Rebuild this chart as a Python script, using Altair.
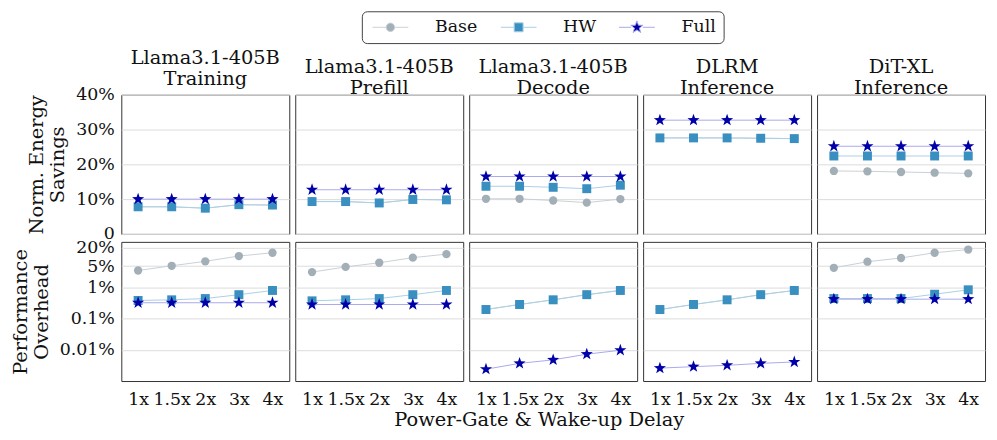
import math
import altair as alt
import pandas as pd

FONT = "DejaVu Serif"

delays = ["1x", "1.5x", "2x", "3x", "4x"]
series_names = ["Base", "HW", "Full"]
workload_keys = ["train", "prefill", "decode", "dlrm", "dit"]
workload_titles = [
    ["Llama3.1-405B", "Training"],
    ["Llama3.1-405B", "Prefill"],
    ["Llama3.1-405B", "Decode"],
    ["DLRM", "Inference"],
    ["DiT-XL", "Inference"],
]

# Normalized energy savings (%)
energy_base_train = [7.8, 7.8, 7.4, 8.4, 8.3]
energy_hw_train = [7.8, 7.8, 7.4, 8.4, 8.3]
energy_full_train = [10.0, 10.0, 10.0, 10.0, 10.0]
energy_base_prefill = [9.3, 9.3, 8.9, 9.9, 9.8]
energy_hw_prefill = [9.3, 9.3, 8.9, 9.9, 9.8]
energy_full_prefill = [12.7, 12.7, 12.7, 12.7, 12.7]
energy_base_decode = [10.1, 10.1, 9.6, 9.0, 10.0]
energy_hw_decode = [13.7, 13.7, 13.4, 13.0, 14.0]
energy_full_decode = [16.5, 16.5, 16.5, 16.5, 16.5]
energy_base_dlrm = [27.6, 27.6, 27.6, 27.5, 27.4]
energy_hw_dlrm = [27.6, 27.6, 27.6, 27.5, 27.4]
energy_full_dlrm = [32.7, 32.7, 32.7, 32.7, 32.7]
energy_base_dit = [18.1, 18.0, 17.8, 17.6, 17.4]
energy_hw_dit = [22.4, 22.4, 22.4, 22.4, 22.4]
energy_full_dit = [25.2, 25.2, 25.2, 25.2, 25.2]

# Performance overhead (%)
over_base_train = [3.6, 5.1, 7.1, 10.5, 13.4]
over_hw_train = [0.39, 0.41, 0.45, 0.6, 0.82]
over_full_train = [0.33, 0.33, 0.33, 0.33, 0.33]
over_base_prefill = [3.2, 4.7, 6.4, 9.3, 12.1]
over_hw_prefill = [0.38, 0.41, 0.45, 0.6, 0.82]
over_full_prefill = [0.29, 0.29, 0.29, 0.29, 0.29]
over_base_decode = [0.2, 0.29, 0.41, 0.6, 0.82]
over_hw_decode = [0.2, 0.29, 0.41, 0.6, 0.82]
over_full_decode = [0.0024, 0.0037, 0.0048, 0.0073, 0.0098]
over_base_dlrm = [0.2, 0.29, 0.41, 0.6, 0.82]
over_hw_dlrm = [0.2, 0.29, 0.41, 0.6, 0.82]
over_full_dlrm = [0.0026, 0.0029, 0.0032, 0.0037, 0.0041]
over_base_dit = [4.4, 6.9, 9.1, 13.4, 17.0]
over_hw_dit = [0.45, 0.45, 0.45, 0.62, 0.86]
over_full_dit = [0.43, 0.43, 0.43, 0.43, 0.43]

energy = {
    "train": [energy_base_train, energy_hw_train, energy_full_train],
    "prefill": [energy_base_prefill, energy_hw_prefill, energy_full_prefill],
    "decode": [energy_base_decode, energy_hw_decode, energy_full_decode],
    "dlrm": [energy_base_dlrm, energy_hw_dlrm, energy_full_dlrm],
    "dit": [energy_base_dit, energy_hw_dit, energy_full_dit],
}
overhead = {
    "train": [over_base_train, over_hw_train, over_full_train],
    "prefill": [over_base_prefill, over_hw_prefill, over_full_prefill],
    "decode": [over_base_decode, over_hw_decode, over_full_decode],
    "dlrm": [over_base_dlrm, over_hw_dlrm, over_full_dlrm],
    "dit": [over_base_dit, over_hw_dit, over_full_dit],
}

rows = []
for w in workload_keys:
    for si, s in enumerate(series_names):
        for di, d in enumerate(delays):
            rows.append({"workload": w, "series": s, "delay": d,
                         "energy": energy[w][si][di], "overhead": overhead[w][si][di]})
df = pd.DataFrame(rows)

marker_colors = ["#a3afb7", "#3a8fc1", "#0000a8"]
line_colors = ["#c9d1d6", "#a9d0e8", "#a9a9ec"]


def star_path(R, r):
    pts = []
    for k in range(10):
        ang = -math.pi / 2 + k * math.pi / 5
        rad = R if k % 2 == 0 else r
        pts.append(f"{rad * math.cos(ang):.3f},{rad * math.sin(ang):.3f}")
    return "M" + "L".join(pts) + "Z"


def circle_path(r, n=24):
    pts = []
    for k in range(n):
        ang = 2 * math.pi * k / n
        pts.append(f"{r * math.cos(ang):.3f},{r * math.sin(ang):.3f}")
    return "M" + "L".join(pts) + "Z"


# plot markers (Vega has no built-in star: use a unit SVG path)
marker_shapes = ["circle", "square", star_path(1.0, 0.4)]
marker_sizes = [70, 81, 165]

# legend symbols: line + marker, unit coordinates scaled by sqrt(100)/2 = 5px
circ = circle_path(0.85)
sq = "M-0.9,-0.9L0.9,-0.9L0.9,0.9L-0.9,0.9Z"
st = star_path(1.3, 0.52)
legend_paths = [
    "M-3.6,0L-0.85,0M0.85,0L3.6,0" + circ,
    "M-3.6,0L-0.9,0M0.9,0L3.6,0" + sq,
    "M-3.6,0L-1.2,0M1.2,0L3.6,0" + st,
]

legend = alt.Legend(
    orient="none", legendX=242, legendY=-84, direction="horizontal", title=None,
    symbolSize=100, symbolOffset=13, labelOffset=36, columnPadding=19,
    padding=7, strokeColor="#444444", cornerRadius=5,
    labelFont=FONT, labelFontSize=17.5, labelColor="#111111",
    symbolStrokeWidth=1, symbolOpacity=1,
)

W, H = 169, 140


def panel(wi, row):
    w = workload_keys[wi]
    d = df[df.workload == w]
    base = alt.Chart(d)
    if row == 0:
        xaxis = None
        field = "energy"
        yscale = alt.Scale(domain=[0, 40], nice=False, zero=True)
        if wi == 0:
            yaxis = alt.Axis(values=[0, 10, 20, 30, 40],
                             labelExpr="datum.value == 0 ? '0' : datum.value + '%'",
                             title=["Norm. Energy", "Savings"], ticks=False,
                             labelPadding=7, domain=False, grid=True, titlePadding=8)
        else:
            yaxis = alt.Axis(values=[0, 10, 20, 30, 40], labels=False, ticks=False,
                             domain=False, grid=True, title=None)
    else:
        if wi == 2:
            xaxis = alt.Axis(title="Power-Gate & Wake-up Delay", labelAngle=0, ticks=False,
                             labelPadding=10, domain=False, grid=False,
                             titleX=70, titleY=45, titleBaseline="alphabetic")
        else:
            xaxis = alt.Axis(title=None, labelAngle=0, ticks=False,
                             labelPadding=10, domain=False, grid=False)
        field = "overhead"
        yscale = alt.Scale(type="log", domain=[0.001, 30], nice=False)
        if wi == 0:
            yaxis = alt.Axis(values=[0.01, 0.1, 1, 5, 20], labelExpr="datum.value + '%'",
                             title=["Performance", "Overhead"], ticks=False,
                             labelPadding=7, domain=False, grid=True, titlePadding=8)
        else:
            yaxis = alt.Axis(values=[0.01, 0.1, 1, 5, 20], labels=False, ticks=False,
                             domain=False, grid=True, title=None)

    x = alt.X("delay:O", sort=delays, scale=alt.Scale(type="point", padding=0.5), axis=xaxis)
    y = alt.Y(f"{field}:Q", scale=yscale, axis=yaxis)

    layers = []
    for si, s in enumerate(series_names):
        sd = base.transform_filter(alt.datum.series == s)
        layers.append(sd.mark_line(strokeWidth=1, color=line_colors[si]).encode(x=x, y=y))
        layers.append(sd.mark_point(filled=True, opacity=1, strokeWidth=0,
                                    shape=marker_shapes[si], size=marker_sizes[si],
                                    fill=marker_colors[si]).encode(x=x, y=y))
    # legend-only layer (drawn with zero size and opacity)
    dummy = base.mark_point(filled=True, opacity=0, size=0).encode(
        x=x, y=y,
        shape=alt.Shape("series:N", scale=alt.Scale(domain=series_names, range=legend_paths),
                        legend=legend),
        fill=alt.Fill("series:N", scale=alt.Scale(domain=series_names, range=marker_colors),
                      legend=legend),
        stroke=alt.Stroke("series:N", scale=alt.Scale(domain=series_names, range=line_colors),
                          legend=legend),
    )
    layers.append(dummy)
    ch = alt.layer(*layers).properties(width=W, height=H)
    if row == 0:
        ch = ch.properties(title=alt.TitleParams(
            text=workload_titles[wi], font=FONT, fontSize=19.5, fontWeight="normal",
            lineHeight=21.7, offset=-4, anchor="middle", color="#111111"))
    return ch


panels = [panel(i, 0) for i in range(5)] + [panel(i, 1) for i in range(5)]

chart = alt.concat(
    *panels, columns=5, spacing={"row": 8, "column": 6}, bounds="flush"
).resolve_scale(
    fill="shared", stroke="shared", shape="shared"
).resolve_legend(
    shape="shared", fill="shared", stroke="shared"
).properties(
    padding={"left": 1, "top": 1, "right": 3, "bottom": 3},
).configure_view(
    stroke="#333333", strokeWidth=1
).configure_axis(
    labelFont=FONT, titleFont=FONT, labelFontSize=17.5, titleFontSize=19.5,
    labelColor="#111111", titleColor="#111111", titleFontWeight="normal",
    gridColor="#dcdcdc", gridWidth=1, titleLineHeight=21
).configure_title(
    font=FONT
)

chart.save("out.html", embed_options={"renderer": "svg", "actions": False})
